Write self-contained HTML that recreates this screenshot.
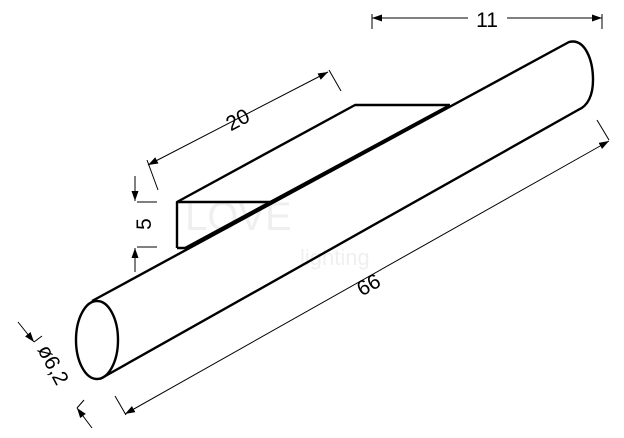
<!DOCTYPE html>
<html><head><style>body{margin:0;background:#fff}svg{display:block}</style></head><body>
<svg width="624" height="438" viewBox="0 0 624 438" xmlns="http://www.w3.org/2000/svg" font-family="Liberation Sans, sans-serif">
<defs><marker id="a" viewBox="0 0 10 10" refX="10" refY="5" markerWidth="10" markerHeight="10" orient="auto-start-reverse" markerUnits="userSpaceOnUse"><path d="M0,1.5 L10,5 L0,8.5z" fill="#000"/></marker></defs>
<g fill="none" stroke="#000" stroke-width="2.4" stroke-linejoin="round">
<ellipse cx="97" cy="340" rx="21" ry="39"/>
<path d="M92,301 L569,42 C585,38 593,60 593,80 C593,95 588,106 578,110 L100,379"/>
<path d="M177,248 L177,202 L355,105 L450,105"/>
<path d="M177,202 L272,202"/>
<path d="M450,105 L185,248 L177,248"/>
</g>
<g stroke="#000" stroke-width="1" fill="none">
<line x1="372" y1="18" x2="468" y2="18" marker-start="url(#a)"/>
<line x1="507" y1="18" x2="602" y2="18" marker-end="url(#a)"/>
<line x1="372" y1="14" x2="372" y2="29"/><line x1="602" y1="14" x2="602" y2="29"/>
<line x1="148" y1="165" x2="328" y2="72" marker-start="url(#a)" marker-end="url(#a)"/>
<line x1="147" y1="160" x2="158" y2="190"/><line x1="329" y1="70" x2="341" y2="91"/>
<line x1="135" y1="176" x2="135" y2="201" marker-end="url(#a)"/>
<line x1="135" y1="272" x2="135" y2="248" marker-end="url(#a)"/>
<line x1="137" y1="202" x2="157" y2="202"/><line x1="137" y1="247" x2="157" y2="247"/>
<line x1="125" y1="414" x2="609" y2="141" marker-start="url(#a)" marker-end="url(#a)"/>
<line x1="115" y1="396" x2="126" y2="415"/><line x1="597" y1="120" x2="609" y2="140"/>
<line x1="18" y1="322" x2="34" y2="342" marker-end="url(#a)"/>
<line x1="34" y1="342" x2="42" y2="336"/>
<line x1="92" y1="428" x2="77" y2="408" marker-end="url(#a)"/>
<line x1="77" y1="408" x2="84" y2="400"/>
</g>
<g fill="#000" font-size="21">
<text x="487" y="27" text-anchor="middle">11</text>
<text transform="translate(241,126) rotate(-28)" text-anchor="middle">20</text>
<text transform="translate(151,224) rotate(-90)" text-anchor="middle">5</text>
<text transform="translate(372,291) rotate(-29)" text-anchor="middle">66</text>
<text transform="translate(47,368) rotate(62)" text-anchor="middle">ø6,2</text>
</g>
<g fill="#000" opacity="0.06" font-size="40"><text x="185" y="230">LOVE</text><text x="300" y="265" font-size="22">lighting</text></g>
</svg>
</body></html>
